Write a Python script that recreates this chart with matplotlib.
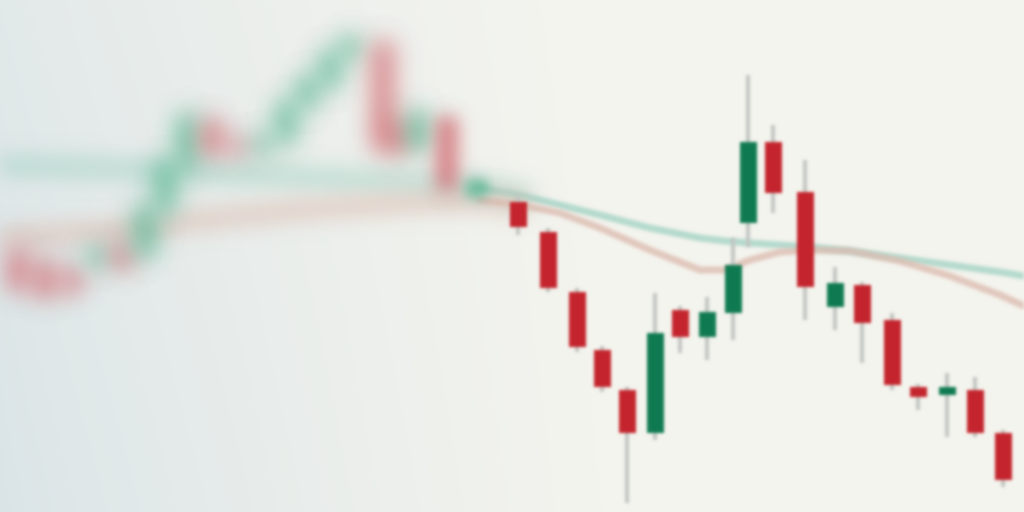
import numpy as np
import matplotlib
matplotlib.use("Agg")
import matplotlib.pyplot as plt
from matplotlib.colors import to_rgb

# ---- data (time position, open, high, low, close) ----
t = [18, 45, 72, 98, 122, 145, 165, 187, 212, 238, 262, 286, 307, 330, 350,
     383, 398, 418, 447, 477,
     518, 548, 577, 602, 627, 655, 680, 707, 733, 748, 773, 805, 835, 862,
     892, 918, 947, 975, 1003]
o = [262, 250, 242, 247, 267, 255, 300, 345, 392, 372, 360, 370, 405, 425, 455,
     470, 392, 362, 395, 315,
     310, 280, 220, 162, 122, 79, 202, 175, 199, 289, 370, 320, 205, 227,
     192, 125, 117, 122, 79]
h = [268, 256, 248, 270, 272, 312, 356, 404, 398, 380, 382, 416, 442, 468, 482,
     476, 398, 410, 402, 340,
     317, 284, 224, 166, 125, 219, 206, 215, 274, 437, 387, 352, 245, 230,
     199, 128, 139, 135, 82]
l = [215, 208, 212, 240, 238, 248, 294, 338, 350, 352, 354, 364, 398, 418, 450,
     355, 352, 355, 316, 308,
     277, 220, 160, 120, 9, 72, 159, 152, 172, 265, 299, 192, 182, 149,
     122, 102, 75, 75, 25]
c = [222, 215, 220, 264, 244, 305, 350, 397, 357, 359, 375, 410, 435, 460, 475,
     362, 360, 400, 322, 332,
     285, 224, 165, 125, 79, 179, 175, 200, 247, 370, 319, 225, 229, 189,
     127, 115, 125, 79, 32]

# moving averages
ma_t = [0, 100, 150, 200, 300, 400, 480, 520, 560, 600, 650, 700, 725, 750,
        780, 810, 850, 900, 950, 1000, 1024]
ma_fast = [347, 344, 342, 340, 335, 330, 324, 317, 307, 297, 284, 274, 271,
           269, 267, 265, 261, 254, 247, 240, 236]
ma_slow = [274, 280, 284, 292, 302, 309, 312, 307, 299, 284, 262, 242, 242,
           252, 260, 262, 261, 251, 236, 217, 206]


def blur_filter(sigma):
    def f(im, dpi):
        if sigma <= 0.05:
            return im, 0, 0
        pad = int(np.ceil(3 * sigma))
        a = im[..., 3:4]
        pm = np.concatenate([im[..., :3] * a, a], axis=2)
        pm = np.pad(pm, ((pad, pad), (pad, pad), (0, 0)))
        xk = np.arange(-pad, pad + 1)
        k = np.exp(-0.5 * (xk / sigma) ** 2)
        k /= k.sum()
        out = np.zeros_like(pm)
        for i, w in enumerate(k):
            out += w * np.roll(pm, i - pad, axis=0)
        out2 = np.zeros_like(out)
        for i, w in enumerate(k):
            out2 += w * np.roll(out, i - pad, axis=1)
        a2 = out2[..., 3:4]
        rgb = out2[..., :3] / np.maximum(a2, 1e-4)
        res = np.concatenate([np.clip(rgb, 0, 1), np.clip(a2, 0, 1)], axis=2)
        return res, -pad, -pad
    return f


fig = plt.figure(figsize=(10.24, 5.12), dpi=100)
ax = fig.add_axes([0, 0, 1, 1])
ax.set_xlim(0, 1024)
ax.set_ylim(0, 512)
ax.axis("off")

# background gradient (cool at left, warm cream at right)
tl, bl, tr, br = map(np.array, map(to_rgb, ["#e2e9e9", "#dae4e7", "#f5f5ef", "#f4f4ee"]))
gx = np.linspace(0, 1, 512)[None, :, None]
gy = np.linspace(0, 1, 256)[:, None, None]
wx = np.clip(gx * 1.7, 0, 1) ** 0.8
bg = (1 - gy) * ((1 - wx) * tl + wx * tr) + gy * ((1 - wx) * bl + wx * br)
ax.imshow(bg, extent=(0, 1024, 0, 512), aspect="auto", interpolation="bilinear",
          zorder=0, origin="upper")

# moving averages: soft lines, heavier blur on the left
ma_t_arr = np.array(ma_t)
for vals, col in [(ma_fast, "#a3d3c5"), (ma_slow, "#dcbcb0")]:
    vals = np.array(vals)
    left = ma_t_arr <= 520
    ln, = ax.plot(ma_t_arr[left], vals[left], color=col, lw=18, alpha=0.5,
                  solid_capstyle="round", zorder=1)
    ln.set_agg_filter(blur_filter(9))
    right = ma_t_arr >= 480
    ln2, = ax.plot(ma_t_arr[right], vals[right], color=col, lw=5, alpha=0.8,
                   solid_capstyle="round", zorder=1)
    ln2.set_agg_filter(blur_filter(1.8))

GREEN = "#0e7a50"
RED = "#c4232c"
WICK = "#c3c7c3"

for ti, oi, hi, li, ci in zip(t, o, h, l, c):
    if ti >= 505:
        sigma = 1.5
        alpha = 1.0
        width = 17
    else:
        sigma = 2 + min(10.0, (515 - ti) / 10.0)
        alpha = 0.8
        width = 22
    up = ci >= oi
    col = GREEN if up else RED
    if ti < 505:
        col = "#52b892" if up else "#d66a71"
    wl = ax.vlines(ti, li, hi, colors=WICK, lw=3, alpha=alpha, zorder=2)
    wl.set_agg_filter(blur_filter(sigma))
    bc = ax.bar(ti, ci - oi, bottom=oi, width=width, color=col, alpha=alpha,
                zorder=3)
    for p in bc.patches:
        p.set_agg_filter(blur_filter(sigma))

fig.savefig("out.png", dpi=100)
